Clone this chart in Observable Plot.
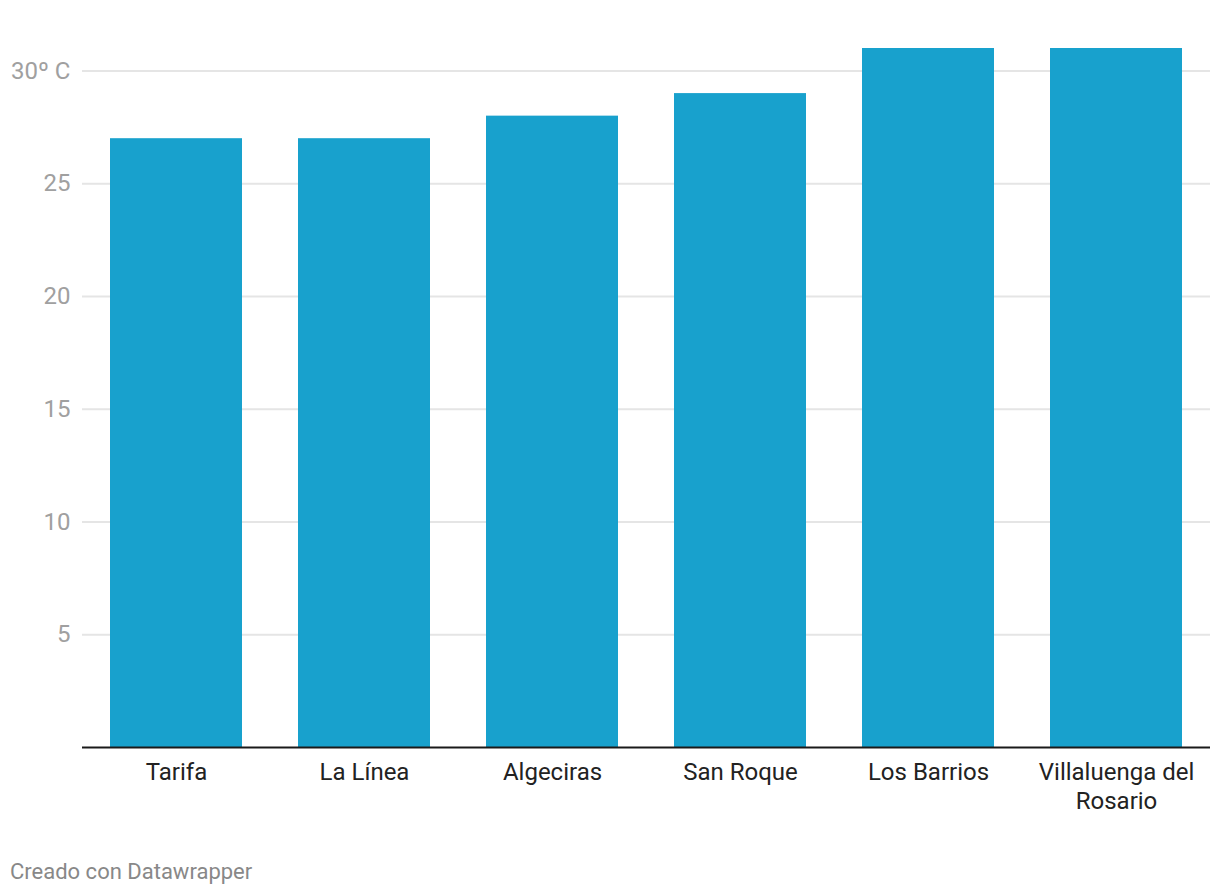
<!DOCTYPE html>
<html><head><meta charset="utf-8">
<script src="https://cdn.jsdelivr.net/npm/d3@7"></script>
<script src="https://cdn.jsdelivr.net/npm/@observablehq/plot@0.6"></script>
<style>
body{margin:0;background:#fff;font-family:Roboto,sans-serif}
#footer{font-size:22px;line-height:26px;color:#888;padding-left:10px;margin-top:19px;font-family:Roboto,sans-serif}
</style></head><body><div id="chart"></div><div id="footer">Creado con Datawrapper</div>
<script>
const cities = ["Tarifa","La Línea","Algeciras","San Roque","Los Barrios","Villaluenga del Rosario"];
const temps = [27,27,28,29,31,31];
const yTicks = [5,10,15,20,25,30];
const yTickLabels = ["5","10","15","20","25","30º C"];
const xTickLabels = ["Tarifa","La Línea","Algeciras","San Roque","Los Barrios","Villaluenga del\nRosario"];
const data = cities.map((c,i)=>({city:c,temp:temps[i]}));
const chart = Plot.plot({
  width:1220, height:840, marginTop:48, marginLeft:82, marginRight:10, marginBottom:93,
  style:{fontFamily:"Roboto", background:"#fff", overflow:"visible"},
  x:{domain:cities, paddingInner:0.3, paddingOuter:0.15, label:null},
  y:{domain:[0,31], label:null},
  marks:[
    Plot.gridY(yTicks,{stroke:"#e5e5e5", strokeOpacity:1, strokeWidth:2}),
    Plot.barY(data,{x:"city", y:"temp", fill:"#18a1cd"}),
    Plot.ruleY([0],{stroke:"#1a1a1a", strokeWidth:2}),
    Plot.axisY(yTicks,{tickSize:0, tickPadding:12, tickFormat:(d)=>yTickLabels[yTicks.indexOf(d)], fontSize:24, fill:"#a0a0a0", label:null}),
    Plot.axisX({tickSize:0, tickPadding:13, tickFormat:(d)=>xTickLabels[cities.indexOf(d)], fontSize:24, fill:"#222", lineHeight:1.17, label:null})
  ]
});
document.getElementById("chart").appendChild(chart);
</script></body></html>
